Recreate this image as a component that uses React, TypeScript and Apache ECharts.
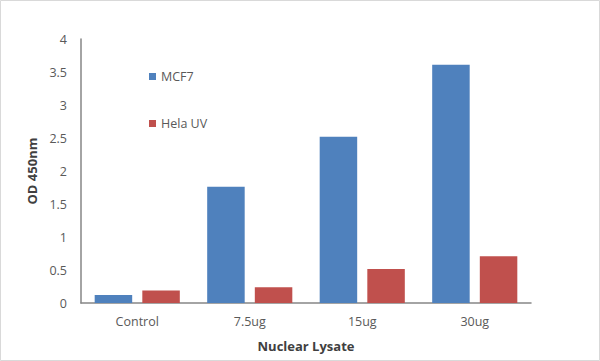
import React, { useEffect, useRef } from "react";
import * as echarts from "echarts";

const categories = ["Control", "7.5ug", "15ug", "30ug"];
const mcf7 = [0.12, 1.76, 2.52, 3.61];
const helaUV = [0.19, 0.24, 0.515, 0.71];
const seriesNames = ["MCF7", "Hela UV"];

export default function App() {
  const ref = useRef<HTMLDivElement>(null);
  useEffect(() => {
    document.body.style.margin = "0";
    const chart = echarts.init(ref.current!, null, { renderer: "svg" });
    const font = "'Open Sans', 'Noto Sans', sans-serif";
    chart.setOption({
      animation: false,
      backgroundColor: "#ffffff",
      textStyle: { fontFamily: font },
      graphic: [
        {
          type: "rect",
          shape: { x: 0.5, y: 0.5, width: 599, height: 360 },
          style: { fill: "none", stroke: "#d9d9d9", lineWidth: 1 },
          silent: true,
        },
      ],
      grid: { left: 81, right: 69, top: 39, bottom: 58 },
      legend: {
        orient: "vertical",
        left: 144,
        top: 65,
        itemWidth: 7,
        itemHeight: 7,
        itemGap: 34,
        icon: "rect",
        textStyle: { color: "#595959", fontSize: 12.5, fontFamily: font },
        data: seriesNames,
      },
      xAxis: {
        type: "category",
        data: categories,
        name: "Nuclear Lysate",
        nameLocation: "middle",
        nameGap: 36,
        nameTextStyle: { color: "#404040", fontSize: 13, fontWeight: "bold", fontFamily: font },
        axisLine: { lineStyle: { color: "#868686", width: 1.5 } },
        axisTick: { show: false },
        axisLabel: { color: "#595959", fontSize: 12.5, margin: 12, fontFamily: font },
      },
      yAxis: {
        type: "value",
        min: 0,
        max: 4,
        interval: 0.5,
        name: "OD 450nm",
        nameLocation: "middle",
        nameGap: 40,
        nameTextStyle: { color: "#404040", fontSize: 13, fontWeight: "bold", fontFamily: font },
        axisLine: { show: true, lineStyle: { color: "#868686", width: 1.5 } },
        axisTick: { show: false },
        splitLine: { show: false },
        axisLabel: { color: "#595959", fontSize: 12.5, margin: 14, fontFamily: font },
      },
      series: [
        {
          name: seriesNames[0],
          type: "bar",
          data: mcf7,
          barWidth: 37.5,
          barGap: "27%",
          itemStyle: { color: "#4F81BD" },
        },
        {
          name: seriesNames[1],
          type: "bar",
          data: helaUV,
          barWidth: 37.5,
          itemStyle: { color: "#C0504D" },
        },
      ],
    });
    return () => chart.dispose();
  }, []);
  return <div ref={ref} style={{ width: 600, height: 361 }} />;
}
